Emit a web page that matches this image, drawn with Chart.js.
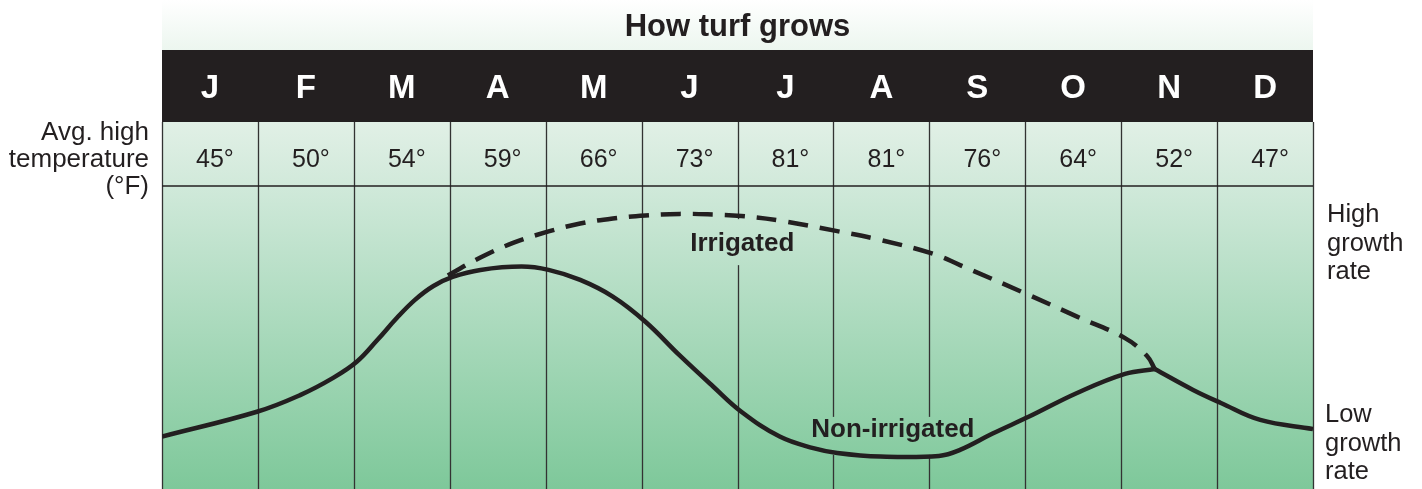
<!DOCTYPE html>
<html>
<head>
<meta charset="utf-8">
<script src="https://cdn.jsdelivr.net/npm/chart.js@4/dist/chart.umd.min.js"></script>
<style>
  html, body { margin: 0; padding: 0; background: #ffffff; }
  #wrap { width: 1422px; height: 489px; position: relative; }
</style>
</head>
<body>
<div id="wrap"><canvas id="c"></canvas></div>
<script>
// ---------- data ----------
const title = 'How turf grows';
const months = ['J','F','M','A','M','J','J','A','S','O','N','D'];
const avgHighTempF = [45, 50, 54, 59, 66, 73, 81, 81, 76, 64, 52, 47];
const leftLabel = ['Avg. high', 'temperature', '(°F)'];
const highLabel = ['High', 'growth', 'rate'];
const lowLabel = ['Low', 'growth', 'rate'];
const irrigatedName = 'Irrigated';
const nonIrrigatedName = 'Non-irrigated';

// x = position in the year (0 = start of Jan, 12 = end of Dec), y = relative growth rate (0-100)
const nonIrrigatedX1 = [0, 0.99, 1.44, 1.78, 2.03, 2.24, 2.45, 2.64, 2.83, 3.03, 3.32, 3.75, 4.03, 4.36, 4.70, 5.04, 5.40, 5.74, 6.04, 6.44, 6.79, 7.04, 7.49, 8.10, 8.32, 8.66, 9.04, 9.54, 10.04, 10.35];
const nonIrrigatedY1 = [17.3, 25.5, 31.0, 36.6, 42.0, 49.0, 56.5, 62.5, 67.0, 70.0, 72.3, 73.4, 72.3, 69.0, 63.5, 55.2, 44.0, 34.0, 25.5, 17.3, 13.5, 11.9, 10.7, 10.9, 12.9, 18.3, 23.9, 31.7, 38.0, 39.6];
const nonIrrigatedX2 = [10.35, 10.75, 11.04, 11.45, 12];
const nonIrrigatedY2 = [39.6, 32.7, 28.4, 22.8, 19.8];
const irrigatedX = [2.98, 3.32, 3.66, 4.03, 4.36, 4.70, 5.04, 5.40, 5.74, 6.04, 6.44, 7.04, 7.49, 8.04, 8.32, 9.04, 9.54, 10.04, 10.27, 10.35];
const irrigatedY = [70.5, 76.4, 81.2, 85.0, 87.6, 89.3, 90.3, 90.8, 90.6, 90.1, 88.6, 85.1, 82.2, 77.6, 73.9, 64.0, 56.9, 49.8, 43.9, 39.6];
// label anchors in data units (x center, y baseline)
const irrigatedLabelPos = [6.05, 78.5];
const nonIrrigatedLabelPos = [7.62, 17.2];

const pts = (xs, ys) => xs.map((x, i) => ({ x: x, y: ys[i] }));

// ---------- styling ----------
const INK = '#231f20';
const FONT = '"Liberation Sans", Arial, Helvetica, sans-serif';
const TITLE_TOP = 0, BAND_TOP = 50, TEMP_TOP = 122, GROW_TOP = 186;

let growGrad = null;

const backdrop = {
  id: 'backdrop',
  beforeDraw(chart) {
    const { ctx, chartArea: a, scales: { x } } = chart;
    const L = a.left, R = a.right, B = a.bottom;
    ctx.save();
    // title band
    let g = ctx.createLinearGradient(0, TITLE_TOP, 0, BAND_TOP);
    g.addColorStop(0, '#ffffff');
    g.addColorStop(1, '#ecf6ef');
    ctx.fillStyle = g;
    ctx.fillRect(L, TITLE_TOP, R - L, BAND_TOP - TITLE_TOP);
    // month band
    ctx.fillStyle = INK;
    ctx.fillRect(L, BAND_TOP, R - L, TEMP_TOP - BAND_TOP);
    // temperature row
    g = ctx.createLinearGradient(0, TEMP_TOP, 0, GROW_TOP);
    g.addColorStop(0, '#e1f0e6');
    g.addColorStop(1, '#d1e9da');
    ctx.fillStyle = g;
    ctx.fillRect(L, TEMP_TOP, R - L, GROW_TOP - TEMP_TOP);
    // growth area
    growGrad = ctx.createLinearGradient(0, GROW_TOP, 0, B);
    growGrad.addColorStop(0, '#d0e9da');
    growGrad.addColorStop(1, '#7ec89a');
    ctx.fillStyle = growGrad;
    ctx.fillRect(L, GROW_TOP, R - L, B - GROW_TOP);

    // vertical month lines
    ctx.strokeStyle = '#333333';
    ctx.lineWidth = 1.3;
    for (let i = 0; i <= months.length; i++) {
      const px = Math.round(x.getPixelForValue(i)) + 0.5;
      ctx.beginPath();
      ctx.moveTo(px, TEMP_TOP);
      ctx.lineTo(px, B);
      ctx.stroke();
    }
    // separator between temperature row and growth area
    ctx.strokeStyle = INK;
    ctx.lineWidth = 1.6;
    ctx.beginPath();
    ctx.moveTo(L, GROW_TOP);
    ctx.lineTo(R, GROW_TOP);
    ctx.stroke();

    // title
    ctx.fillStyle = INK;
    ctx.textAlign = 'center';
    ctx.textBaseline = 'alphabetic';
    ctx.font = 'bold 31px ' + FONT;
    ctx.fillText(title, (L + R) / 2, 36);

    // months
    ctx.fillStyle = '#ffffff';
    ctx.font = 'bold 33px ' + FONT;
    months.forEach((m, i) => ctx.fillText(m, x.getPixelForValue(i + 0.5), 98));

    // temperatures
    ctx.fillStyle = INK;
    ctx.font = '25px ' + FONT;
    avgHighTempF.forEach((t, i) => ctx.fillText(t + '°', x.getPixelForValue(i + 0.5) + 5, 167));

    // left label
    ctx.textAlign = 'right';
    ctx.font = '26px ' + FONT;
    leftLabel.forEach((s, i) => ctx.fillText(s, 149, 140 + i * 27));

    // right labels
    ctx.textAlign = 'left';
    ctx.font = '25.5px ' + FONT;
    highLabel.forEach((s, i) => ctx.fillText(s, 1327, 222 + i * 28.5));
    lowLabel.forEach((s, i) => ctx.fillText(s, 1325, 422 + i * 28.5));
    ctx.restore();
  },
  beforeDatasetsDraw(chart) {
    const { ctx, scales: { x, y } } = chart;
    ctx.save();
    ctx.font = 'bold 26px ' + FONT;
    const knock = (text, pos, up, down) => {
      const cx = x.getPixelForValue(pos[0]);
      const by = y.getPixelForValue(pos[1]);
      const w = ctx.measureText(text).width;
      ctx.fillStyle = growGrad;
      ctx.fillRect(cx - w / 2 - 4, by - up, w + 8, up + down);
      ctx.fillStyle = INK;
      ctx.textAlign = 'center';
      ctx.textBaseline = 'alphabetic';
      ctx.fillText(text, cx, by);
    };
    knock(irrigatedName, irrigatedLabelPos, 32, 14);
    knock(nonIrrigatedName, nonIrrigatedLabelPos, 20, 18);
    ctx.restore();
  }
};

const common = {
  borderColor: INK,
  borderWidth: 4.5,
  pointRadius: 0,
  fill: false,
  tension: 0.4,
  borderJoinStyle: 'round'
};

new Chart(document.getElementById('c'), {
  type: 'line',
  data: {
    datasets: [
      Object.assign({ label: irrigatedName, data: pts(irrigatedX, irrigatedY), borderDash: [20, 12], borderCapStyle: 'butt' }, common),
      Object.assign({ label: nonIrrigatedName, data: pts(nonIrrigatedX1, nonIrrigatedY1), borderCapStyle: 'butt' }, common),
      Object.assign({ label: nonIrrigatedName + ' (late)', data: pts(nonIrrigatedX2, nonIrrigatedY2), borderCapStyle: 'butt' }, common)
    ]
  },
  options: {
    responsive: true,
    maintainAspectRatio: false,
    animation: false,
    layout: { padding: { top: GROW_TOP, left: 162, right: 109, bottom: 0 } },
    scales: {
      x: { type: 'linear', min: 0, max: 12, display: false },
      y: { type: 'linear', min: 0, max: 100, display: false }
    },
    plugins: { legend: { display: false }, tooltip: { enabled: false } }
  },
  plugins: [backdrop]
});
</script>
</body>
</html>
